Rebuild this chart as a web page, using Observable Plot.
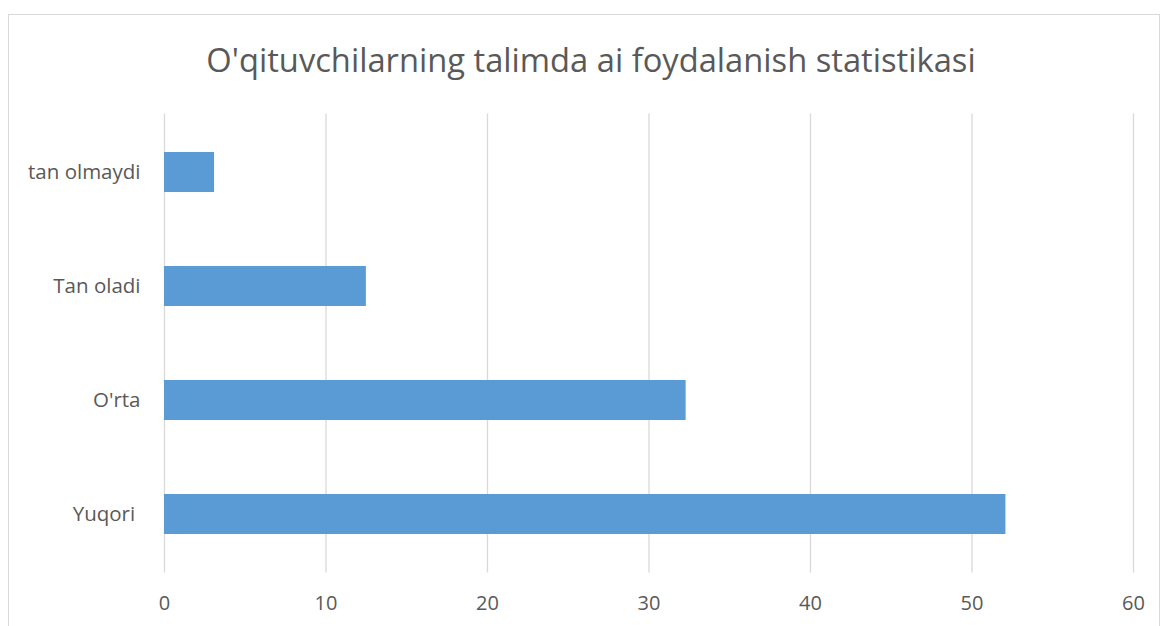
<!DOCTYPE html>
<html>
<head>
<meta charset="utf-8">
<script src="https://cdn.jsdelivr.net/npm/d3@7"></script>
<script src="https://cdn.jsdelivr.net/npm/@observablehq/plot@0.6"></script>
<style>
  body { margin: 0; background: #fff; }
  #wrap { position: relative; width: 1162px; height: 626px; overflow: hidden; font-family: "Open Sans", sans-serif; }
  #frame { position: absolute; left: 8px; top: 14px; width: 1152px; height: 640px; border: 1px solid #d9d9d9; box-sizing: border-box; }
  #title { position: absolute; left: 0; width: 1182px; top: 37px; text-align: center; font-size: 32.7px; color: #595959; white-space: nowrap; }
  #chart { position: absolute; left: 0; top: 0; }
  #chart svg text { white-space: pre; }
</style>
</head>
<body>
<div id="wrap">
  <div id="frame"></div>
  <div id="title">O'qituvchilarning talimda ai foydalanish statistikasi</div>
  <div id="chart"></div>
</div>
<script>
const categories = ["tan olmaydi", "Tan oladi", "O'rta", "Yuqori "];
const values = [3.1, 12.5, 32.3, 52.1];
const xTicks = [0, 10, 20, 30, 40, 50, 60];

const data = categories.map((c, i) => ({ category: c, value: values[i] }));

const chart = Plot.plot({
  width: 1162,
  height: 626,
  marginLeft: 164,
  marginRight: 29,
  marginTop: 113.5,
  marginBottom: 53.5,
  style: { fontFamily: "Open Sans, sans-serif", fontSize: "20px", color: "#595959", background: "transparent", overflow: "visible" },
  x: { domain: [0, 60], ticks: xTicks, grid: false, label: null },
  y: { domain: categories, paddingInner: 0.652, paddingOuter: 0.326, label: null },
  marks: [
    Plot.gridX(xTicks, { stroke: "#d9d9d9", strokeOpacity: 1, strokeWidth: 1.3 }),
    Plot.barX(data, { x: "value", y: "category", fill: "#5b9bd5" }),
    Plot.axisX({ ticks: xTicks, tickSize: 0, tickPadding: 23, fontSize: 20, fill: "#595959", label: null }),
    Plot.axisY({ tickSize: 0, tickPadding: 24, fontSize: 20.5, fill: "#595959", label: null })
  ]
});
document.getElementById("chart").appendChild(chart);
</script>
</body>
</html>
